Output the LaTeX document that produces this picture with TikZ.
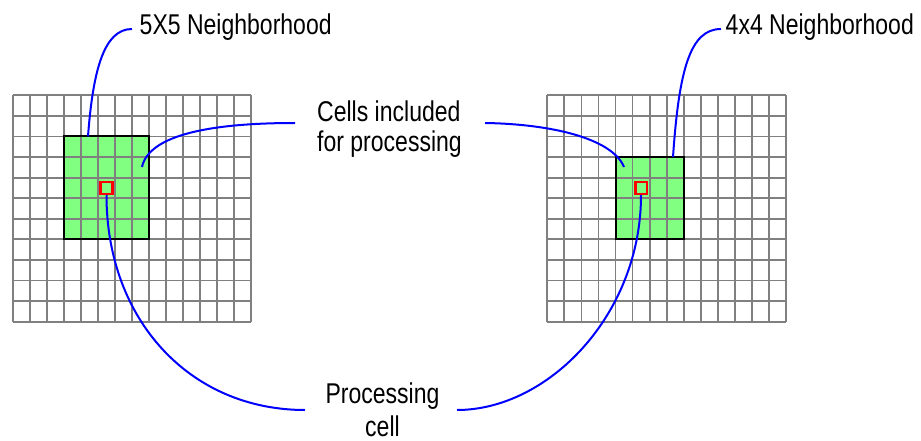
\documentclass[tikz,border=0pt]{standalone}
\usepackage{fontspec}
\newfontfamily\lblfont[FakeStretch=0.805]{Liberation Sans}
\definecolor{hoodgreen}{RGB}{128,255,128}
\definecolor{gridgray}{RGB}{128,128,128}
\definecolor{leadblue}{RGB}{0,0,255}
\definecolor{procred}{RGB}{255,0,0}
\begin{document}
\begin{tikzpicture}[x=1pt,y=-1pt,
  gridln/.style={draw=gridgray, line width=1.8pt},
  hood/.style={fill=hoodgreen, draw=none},
  hoodborder/.style={draw=black, line width=2pt},
  proccell/.style={draw=procred, line width=2.6pt},
  lead/.style={draw=leadblue, line width=2pt},
  lbl/.style={font=\lblfont\fontsize{28.6}{30}\selectfont, inner sep=0pt}]
\useasboundingbox (0,0) rectangle (921,441);
\fill[white] (0,0) rectangle (921,441);
\def\LX{13.3}\def\RX{547.3}\def\GY{95.3}\def\DX{16.95}\def\DXR{17.05}\def\DY{20.58}
% green neighbourhoods
\fill[hood] (\LX+3*\DX,\GY+2*\DY) rectangle (\LX+8*\DX,\GY+7*\DY);
\fill[hood] (\RX+4*\DXR,\GY+3*\DY) rectangle (\RX+8*\DXR,\GY+7*\DY);
% grids
\foreach \i in {0,...,14}{
  \draw[gridln] (\LX+\i*\DX,\GY) -- (\LX+\i*\DX,\GY+11*\DY);
  \draw[gridln] (\RX+\i*\DXR,\GY) -- (\RX+\i*\DXR,\GY+11*\DY);
}
\foreach \j in {0,...,11}{
  \draw[gridln] (\LX,\GY+\j*\DY) -- (\LX+14*\DX,\GY+\j*\DY);
  \draw[gridln] (\RX,\GY+\j*\DY) -- (\RX+14*\DXR,\GY+\j*\DY);
}
% neighbourhood borders
\draw[hoodborder] (\LX+3*\DX,\GY+2*\DY) rectangle (\LX+8*\DX,\GY+7*\DY);
\draw[hoodborder] (\RX+4*\DXR,\GY+3*\DY) rectangle (\RX+8*\DXR,\GY+7*\DY);
% processing cells
\draw[proccell] (100.75,181.8) rectangle (112.3,194);
\draw[proccell] (635.25,181.8) rectangle (646.9,194);
% labels
\node[lbl, anchor=base west] (t5) at (139.5,35) {5X5 Neighborhood};
\node[lbl, anchor=base west] (t4) at (725.5,35) {4x4 Neighborhood};
\node[lbl, anchor=base west] (tc) at (317,121.7) {\begin{tabular}[t]{@{}l@{}}Cells included\\for processing\end{tabular}};
\node[lbl, anchor=base, font=\lblfont\fontsize{28.6}{33.4}\selectfont] (tp) at (382.5,403.3) {\begin{tabular}[t]{@{}c@{}}Processing\\cell\end{tabular}};
% leader end points
\coordinate (a5) at (132,29);
\coordinate (b5) at (88,136.5);
\coordinate (a4) at (721,29);
\coordinate (b4) at (673,157);
\coordinate (ac) at (295,123);
\coordinate (bcl) at (142,167);
\coordinate (acr) at (485,123);
\coordinate (bcr) at (624,167);
\coordinate (apl) at (305,410);
\coordinate (bpl) at (106.5,195.2);
\coordinate (apr) at (457,410);
\coordinate (bpr) at (641,195.2);
% leaders
\draw[lead] (a5) .. controls (104,29) and (93,70) .. (b5);
\draw[lead] (a4) .. controls (690,29) and (679,70) .. (b4);
\draw[lead] (ac) .. controls (230,123) and (150,130) .. (bcl);
\draw[lead] (acr) .. controls (550,124) and (612,138) .. (bcr);
\draw[lead] (bpl) .. controls (106.5,320) and (190,410) .. (apl);
\draw[lead] (bpr) .. controls (641,315) and (548,410) .. (apr);
\end{tikzpicture}
\end{document}
